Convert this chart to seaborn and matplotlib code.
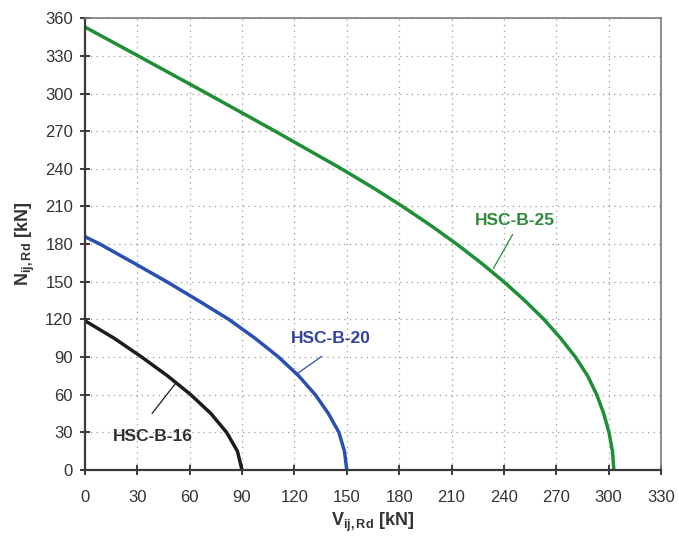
import matplotlib
matplotlib.use("Agg")
import matplotlib.pyplot as plt
import seaborn as sns
import pandas as pd

# Data
b16_V = [0, 16.8, 32.6, 47.4, 60.7, 72.2, 81.2, 87.4, 90]
b16_N = [119, 105, 90, 75, 60, 45, 30, 15, 0]

b20_V = [0, 8.7, 28, 47, 65, 82.5, 97.5, 111, 122.5, 132, 139.5, 145.5, 148.7, 150]
b20_N = [186, 180, 165, 150, 135, 120, 105, 90, 75, 60, 45, 30, 15, 0]

b25_V = [0, 30.5, 70, 109, 147, 165, 182, 198, 213, 227, 240,
         252, 263, 272.5, 281, 288, 293.2, 297.2, 300.2, 302.2, 303]
b25_N = [353, 330, 300, 270, 240, 225, 210, 195, 180, 165, 150,
         135, 120, 105, 90, 75, 60, 45, 30, 15, 0]

series_names = ["HSC-B-16", "HSC-B-20", "HSC-B-25"]
yticks = list(range(0, 361, 30))
xticks = list(range(0, 331, 30))

sns.set_theme(style="white")
plt.rcParams['font.family'] = ['Liberation Sans', 'DejaVu Sans']
plt.rcParams['mathtext.fontset'] = 'custom'
plt.rcParams['mathtext.rm'] = 'Liberation Sans:bold'
plt.rcParams['mathtext.bf'] = 'Liberation Sans:bold'
plt.rcParams['mathtext.it'] = 'Liberation Sans:bold'

df = pd.concat([
    pd.DataFrame({"V": b16_V, "N": b16_N, "s": series_names[0]}),
    pd.DataFrame({"V": b20_V, "N": b20_N, "s": series_names[1]}),
    pd.DataFrame({"V": b25_V, "N": b25_N, "s": series_names[2]}),
], ignore_index=True)

colors = {"HSC-B-16": "#1c1c1c", "HSC-B-20": "#2a4fb3", "HSC-B-25": "#1f8f35"}
label_colors = {"HSC-B-16": "#2f2f2f", "HSC-B-20": "#3342a0", "HSC-B-25": "#2e8a3c"}

fig = plt.figure(figsize=(6.79, 5.36), dpi=100)
ax = fig.add_axes([0.125, 0.123, 0.8485, 0.843])

sns.lineplot(data=df, x="V", y="N", hue="s", palette=colors, sort=False,
             estimator=None, linewidth=2.5, legend=False, ax=ax)
for l in ax.lines:
    l.set_solid_joinstyle("round")
    l.set_solid_capstyle("butt")

ax.set_xlim(0, 330)
ax.set_ylim(0, 360)
ax.set_xticks(xticks)
ax.set_yticks(yticks)
ax.grid(True, color="#999999", linestyle=(0, (1, 3.5)), linewidth=0.9)

for side in ["left", "bottom"]:
    ax.spines[side].set_color("#3a3a3a")
    ax.spines[side].set_linewidth(1.6)
for side in ["top", "right"]:
    ax.spines[side].set_color("#7a7a7a")
    ax.spines[side].set_linewidth(1.2)
    ax.spines[side].set_visible(True)

ax.tick_params(axis="both", direction="inout", length=7, width=1.4,
               color="#3a3a3a", labelsize=12, labelcolor="#333333",
               left=True, bottom=True, top=False, right=False)
ax.tick_params(axis="x", pad=11)
ax.tick_params(axis="y", pad=5)

ax.set_xlabel(r"$\mathbf{V_{ij,Rd}}$ [kN]", fontsize=13, fontweight="bold",
              color="#333333", labelpad=4)
ax.set_ylabel(r"$\mathbf{N_{ij,Rd}}$ [kN]", fontsize=13, fontweight="bold",
              color="#333333", labelpad=6)

# Curve labels with leader lines
ann = [
    ("HSC-B-16", (39, 27), (38.5, 45.1), (51.9, 69.0)),
    ("HSC-B-20", (140.8, 105), (135.6, 90.6), (121.2, 76.4)),
    ("HSC-B-25", (246.4, 199), (245, 187.7), (234, 160.7)),
]
for name, tpos, p0, p1 in ann:
    ax.text(tpos[0], tpos[1], name, color=label_colors[name], fontsize=12.5,
            fontweight="bold", ha="center", va="center")
    ax.plot([p0[0], p1[0]], [p0[1], p1[1]], color=colors[name], linewidth=0.9)

fig.savefig("out.png", dpi=100)
